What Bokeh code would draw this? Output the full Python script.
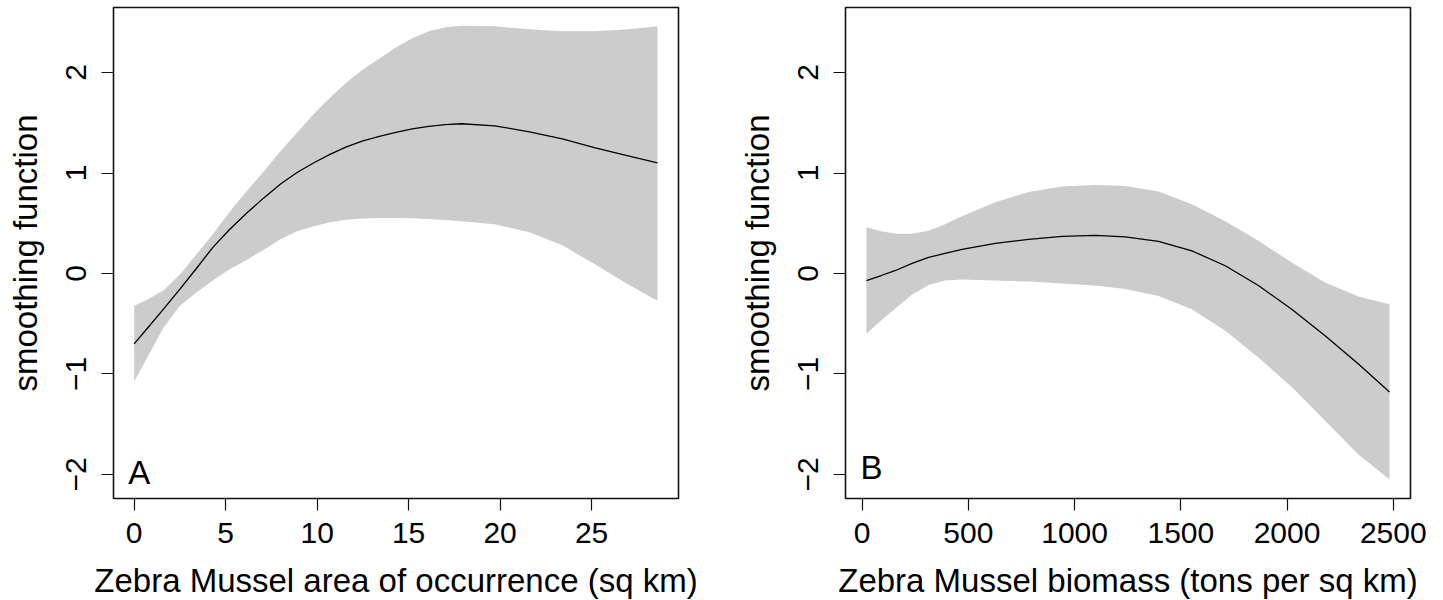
from bokeh.plotting import figure
from bokeh.layouts import row
from bokeh.models import Range1d, FixedTicker
from bokeh.embed import file_html
from bokeh.resources import INLINE
from bokeh.core.properties import value

# Panel A: zebra mussel area of occurrence (sq km)
area_x = [0.0, 0.7, 1.6, 2.5, 3.4, 4.3, 5.2, 6.2, 7.1, 8.0, 8.9, 9.8, 10.7, 11.6, 12.5, 13.4,
          14.3, 15.2, 16.1, 17.0, 17.9, 19.7, 21.6, 23.4, 25.2, 27.0, 28.6]
area_fit = [-0.70, -0.55, -0.355, -0.155, 0.05, 0.26, 0.435, 0.61, 0.755, 0.89, 1.005, 1.10, 1.185, 1.26,
            1.32, 1.365, 1.405, 1.44, 1.465, 1.482, 1.49, 1.47, 1.41, 1.34, 1.25, 1.17, 1.10]
area_upper = [-0.32, -0.26, -0.17, -0.01, 0.19, 0.39, 0.61, 0.83, 1.02, 1.22, 1.40, 1.585, 1.75, 1.90,
              2.03, 2.14, 2.25, 2.34, 2.41, 2.45, 2.465, 2.46, 2.43, 2.41, 2.41, 2.43, 2.46]
area_lower = [-1.075, -0.84, -0.54, -0.32, -0.19, -0.07, 0.04, 0.14, 0.24, 0.34, 0.42, 0.47, 0.51, 0.535,
              0.548, 0.552, 0.552, 0.55, 0.543, 0.533, 0.52, 0.49, 0.41, 0.28, 0.09, -0.11, -0.27]

# Panel B: zebra mussel biomass (tons per sq km)
bio_x = [20, 90, 157, 235, 313, 390, 470, 627, 784, 941, 1097, 1238, 1395, 1552, 1709, 1865,
         2022, 2179, 2336, 2482]
bio_fit = [-0.07, -0.02, 0.03, 0.10, 0.16, 0.20, 0.24, 0.30, 0.34, 0.37, 0.38, 0.365, 0.32, 0.225,
           0.077, -0.12, -0.355, -0.62, -0.90, -1.18]
bio_upper = [0.46, 0.42, 0.395, 0.395, 0.425, 0.49, 0.57, 0.71, 0.81, 0.865, 0.88, 0.87, 0.815, 0.69,
             0.52, 0.325, 0.11, -0.09, -0.23, -0.305]
bio_lower = [-0.60, -0.465, -0.345, -0.21, -0.115, -0.07, -0.06, -0.07, -0.08, -0.10, -0.12, -0.155,
             -0.225, -0.355, -0.57, -0.835, -1.13, -1.466, -1.80, -2.05]

y_ticks = [-2, -1, 0, 1, 2]
area_ticks = [0, 5, 10, 15, 20, 25]
bio_ticks = [0, 500, 1000, 1500, 2000, 2500]
y_label = "smoothing function"
area_label = "Zebra Mussel area of occurrence (sq km)"
bio_label = "Zebra Mussel biomass (tons per sq km)"

FONT = "Liberation Sans"
TICK_FS = "30px"
LAB_FS = "33px"


def panel(x, fit, lo, hi, xr, xticks, xlabel, tag, tag_x, tag_y, bl, br):
    p = figure(output_backend="svg", toolbar_location=None,
               frame_width=565, frame_height=491,
               x_range=Range1d(*xr), y_range=Range1d(-2.239, 2.647),
               min_border_left=bl, min_border_right=br,
               min_border_top=7, min_border_bottom=0)
    p.grid.visible = False
    p.background_fill_color = "white"
    p.border_fill_color = "white"
    p.outline_line_color = "#111111"
    p.outline_line_width = 1.6

    p.varea(x=x, y1=lo, y2=hi, fill_color="#CCCCCC", fill_alpha=1.0)
    p.line(x=x, y=fit, line_color="black", line_width=1.3)
    p.text(x=[tag_x], y=[tag_y], text=[tag], text_font=value(FONT),
           text_font_size=LAB_FS, text_align="left", text_baseline="alphabetic",
           text_color="black")

    for ax in (p.xaxis[0], p.yaxis[0]):
        ax.axis_line_color = None
        ax.major_tick_line_color = "#111111"
        ax.major_tick_line_width = 1.2
        ax.major_tick_in = 0
        ax.major_tick_out = 12
        ax.minor_tick_line_color = None
        ax.major_label_text_font = FONT
        ax.major_label_text_font_size = TICK_FS
        ax.major_label_text_color = "black"
        ax.axis_label_text_font = FONT
        ax.axis_label_text_font_size = LAB_FS
        ax.axis_label_text_font_style = "normal"
        ax.axis_label_text_color = "black"

    p.xaxis.ticker = FixedTicker(ticks=xticks)
    p.yaxis.ticker = FixedTicker(ticks=y_ticks)
    p.xaxis.major_label_overrides = {t: str(t) for t in xticks}
    p.yaxis.major_label_overrides = {t: ("\u2212" + str(-t) if t < 0 else str(t)) for t in y_ticks}
    p.yaxis.major_label_orientation = "vertical"
    p.xaxis.axis_label = xlabel
    p.yaxis.axis_label = y_label
    p.xaxis.major_label_standoff = 12
    p.yaxis.major_label_standoff = 15
    p.xaxis.axis_label_standoff = 16
    p.yaxis.axis_label_standoff = 20
    return p


pa = panel(area_x, area_fit, area_lower, area_upper, (-1.13, 29.75), area_ticks,
           area_label, "A", -0.33, -1.98, 113, 40)
pb = panel(bio_x, bio_fit, bio_lower, bio_upper, (-78.5, 2581), bio_ticks,
           bio_label, "B", -8, -1.93, 127, 20)

layout = row(pa, pb)
open("out.html", "w").write(file_html(layout, INLINE))
